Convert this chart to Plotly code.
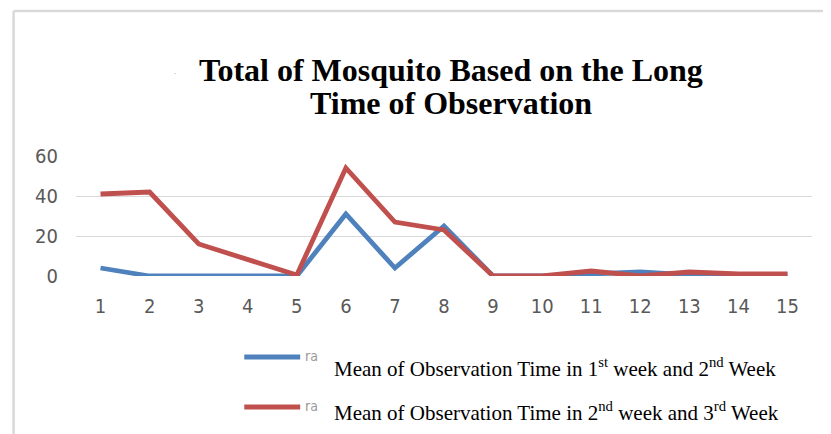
import plotly.graph_objects as go

categories = [str(i) for i in range(1, 16)]
week1_2 = [4, 0, 0, 0, 0, 31, 4, 25, 0, 0, 1, 2, 0.5, 0.5, 0.5]
week2_3 = [41, 42, 16, 8, 0.5, 54, 27, 23, 0, 0, 2.5, 0, 2, 1, 1]
y_ticks = [0, 20, 40, 60]
name1 = "Mean of Observation Time in 1<sup>st</sup> week and 2<sup>nd</sup> Week"
name2 = "Mean of Observation Time in 2<sup>nd</sup> week and 3<sup>rd</sup> Week"

BLUE = "#4F81BD"
RED = "#C0504D"

W, H = 831, 434
OFF = 8  # default page body margin
L, R, T, B = 75.5, 812.5, 156, 276


def px(x):
    return (x - L) / (R - L)


def py(y):
    return (B - y) / (B - T)


fig = go.Figure()
fig.add_trace(go.Scatter(x=categories, y=week1_2, mode="lines", name=name1,
                         line=dict(color=BLUE, width=4.8), showlegend=False))
fig.add_trace(go.Scatter(x=categories, y=week2_3, mode="lines", name=name2,
                         line=dict(color=RED, width=4.8), showlegend=False))

shapes = [
    dict(type="line", xref="paper", yref="paper", x0=px(13), x1=px(13), y0=py(440), y1=py(11),
         line=dict(color="#d9d9d9", width=2.5)),
    dict(type="line", xref="paper", yref="paper", x0=px(13), x1=px(840), y0=py(11), y1=py(11),
         line=dict(color="#d9d9d9", width=2.5)),
    dict(type="line", xref="paper", yref="paper", x0=px(244), x1=px(300), y0=py(357), y1=py(357),
         line=dict(color=BLUE, width=4.8)),
    dict(type="line", xref="paper", yref="paper", x0=px(244), x1=px(300), y0=py(407), y1=py(407),
         line=dict(color=RED, width=4.8)),
]

annotations = [
    dict(text="<b>Total of Mosquito Based on the Long</b>", x=px(451), y=py(70), xref="paper", yref="paper",
         showarrow=False, font=dict(family="Liberation Serif", size=32, color="black"),
         xanchor="center", yanchor="middle"),
    dict(text="<b>Time of Observation</b>", x=px(451), y=py(103), xref="paper", yref="paper",
         showarrow=False, font=dict(family="Liberation Serif", size=32, color="black"),
         xanchor="center", yanchor="middle"),
    dict(text=".", x=px(175), y=py(71), xref="paper", yref="paper", showarrow=False,
         font=dict(family="Liberation Sans", size=8, color="#888888"), xanchor="center", yanchor="middle"),
    dict(text="ra", x=px(303), y=py(356), xref="paper", yref="paper", showarrow=False,
         font=dict(family="DejaVu Sans Condensed", size=14, color="#999999"), xanchor="left", yanchor="middle"),
    dict(text="ra", x=px(303), y=py(406), xref="paper", yref="paper", showarrow=False,
         font=dict(family="DejaVu Sans Condensed", size=14, color="#999999"), xanchor="left", yanchor="middle"),
    dict(text=name1, x=px(332), y=py(367), xref="paper", yref="paper", showarrow=False,
         font=dict(family="Liberation Serif", size=21, color="black"), xanchor="left", yanchor="middle"),
    dict(text=name2, x=px(332), y=py(411), xref="paper", yref="paper", showarrow=False,
         font=dict(family="Liberation Serif", size=21, color="black"), xanchor="left", yanchor="middle"),
]

tickfont = dict(family="DejaVu Sans Condensed, Liberation Sans", size=20, color="#595959")

fig.update_layout(
    width=W - OFF, height=H - OFF,
    margin=dict(l=L - OFF, r=W - R, t=T - OFF, b=H - B, pad=0),
    paper_bgcolor="white", plot_bgcolor="white",
    shapes=shapes, annotations=annotations,
    xaxis=dict(type="category", range=[-0.5, len(categories) - 0.5], showgrid=False,
               zeroline=False, showline=False,
               ticks="outside", ticklen=12, tickcolor="rgba(0,0,0,0)", tickfont=tickfont),
    yaxis=dict(range=[0, 60], tickvals=y_ticks, showgrid=True, gridcolor="#d9d9d9", gridwidth=1,
               zeroline=False, showline=False, ticks="outside", ticklen=13,
               tickcolor="rgba(0,0,0,0)", tickfont=tickfont),
)

fig.write_html("out.html")
